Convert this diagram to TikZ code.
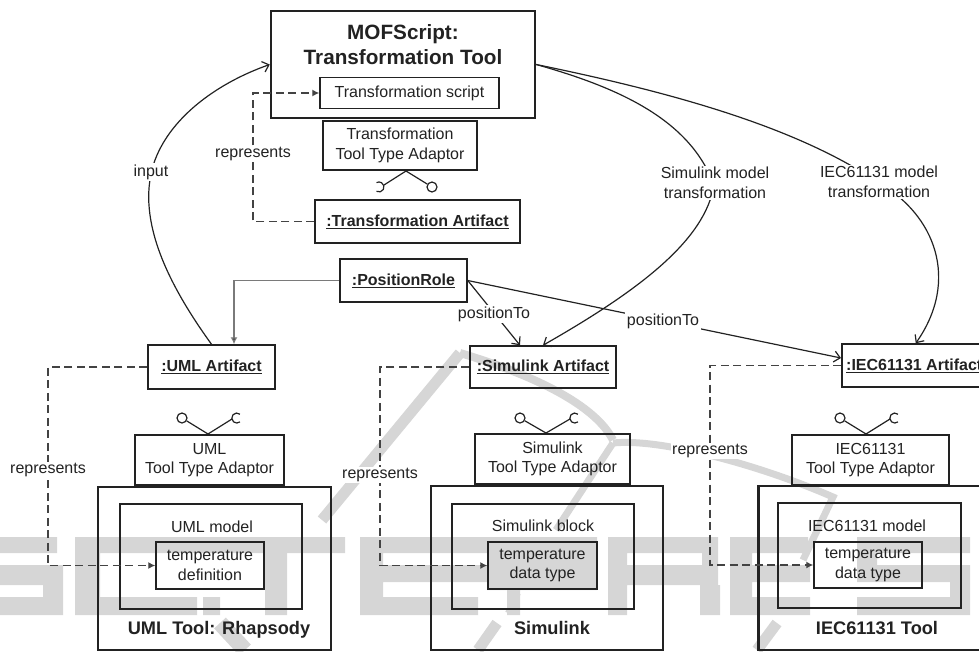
\documentclass[tikz,border=0pt]{standalone}
\usepackage{fontspec}
\setmainfont{Liberation Sans}
\usetikzlibrary{arrows.meta}
\definecolor{ink}{HTML}{222222}
\definecolor{wm}{HTML}{D6D6D6}
\tikzset{
  boxthin/.style={draw=ink,line width=1.5pt,inner sep=0pt,align=center},
  boxthick/.style={draw=ink,line width=2.5pt,inner sep=0pt,align=center},
  txt/.style={font=\fontsize{16}{19.5}\selectfont,text=ink,align=center,inner sep=0pt},
  btxt/.style={font=\fontsize{16}{19.5}\selectfont\bfseries,text=ink,align=center,inner sep=0pt},
  lbl/.style={txt,fill=white,inner sep=1.5pt},
  conn/.style={draw=ink,line width=1.2pt},
  open/.style={-{Straight Barb[length=6pt,width=11pt]}},
  dashline/.style={draw=ink!85,line width=1.2pt,dash pattern=on 8pt off 4.5pt,-{Latex[length=7pt,width=7pt]}},
  ball/.style={circle,draw=ink,line width=1.2pt,minimum size=10pt,inner sep=0pt},
  wmk/.style={fill=wm,draw=none},
  wmline/.style={draw=wm,line cap=butt}
}
\begin{document}
\begin{tikzpicture}[x=1pt,y=-1pt]
\useasboundingbox (0,0) rectangle (979,651);
\clip (0,0) rectangle (979,651);
% watermark: S C I T
\fill[wmk] (0,537) rectangle (57,553) (0,565) rectangle (63,585) (43,565) rectangle (63,615) (0,597) rectangle (63,615);
\fill[wmk] (75,537) rectangle (345,553) (75,537) rectangle (100,615) (75,597) rectangle (197,615);
\fill[wmk] (203,597) rectangle (220,615) (265,553) rectangle (287,615);
% E P
\fill[wmk] (360,537) rectangle (487,553) (360,537) rectangle (383,615) (360,565) rectangle (487,582) (360,597) rectangle (478,615);
\fill[wmk] (487,537) rectangle (597,590) (507,590) rectangle (520,615);
% R E S
\fill[wmk] (608,537) rectangle (713,553) (608,537) rectangle (627,615) (608,565) rectangle (717,585) (702,537) rectangle (718,585) (700,585) rectangle (720,615);
\fill[wmk] (730,537) rectangle (808,553) (730,537) rectangle (752,615) (730,565) rectangle (810,582) (730,597) rectangle (810,615);
\fill[wmk] (857,537) rectangle (970,553) (857,537) rectangle (877,582) (857,565) rectangle (970,582) (950,565) rectangle (970,615) (857,597) rectangle (970,615);
% watermark: strokes
\draw[wmline,line width=11pt] (322,520) -- (460,353);
\draw[wmline,line width=8pt] (460,353) .. controls (500,365) and (590,395) .. (613,440);
\draw[wmline,line width=7pt] (613,443) .. controls (660,438) and (760,465) .. (833,497) -- (803,560);
\draw[wmline,line width=7pt] (613,443) -- (556,530);
\draw[wmline,line width=6pt] (518,593) -- (508,613);
\draw[wmline,line width=11pt] (497,623) -- (478,650);
\draw[wmline,line width=11pt] (777,623) -- (757,650);
\draw[wmline,line width=16pt] (220,623) -- (245,650);
% top
\node[boxthick,minimum width=264pt,minimum height=107pt] (mof) at (403,64.5) {};
\node[btxt,font=\fontsize{20.7}{25}\selectfont\bfseries] (moft) at (403,45) {MOFScript:\\Transformation Tool};
\node[boxthin,minimum width=179pt,minimum height=31pt,txt,draw=ink] (script) at (409.5,93) {Transformation script};
\node[boxthick,minimum width=154pt,minimum height=49pt,txt,draw=ink] (tad) at (400,145.5) {Transformation\\Tool Type Adaptor};
\node[boxthin,minimum width=205pt,minimum height=43pt,btxt,draw=ink] (trart) at (417.5,221.5) {\underline{:Transformation Artifact}};
% artifacts
\node[boxthin,minimum width=127pt,minimum height=43pt,btxt,draw=ink] (prole) at (403.5,280.5) {\underline{:PositionRole}};
\node[boxthin,minimum width=127pt,minimum height=44pt,btxt,draw=ink] (umlart) at (211.5,367) {\underline{:UML Artifact}};
\node[boxthin,minimum width=146pt,minimum height=42pt,btxt,draw=ink] (simart) at (543,367) {\underline{:Simulink Artifact}};
\node[boxthin,minimum width=148pt,minimum height=43pt,btxt,draw=ink,anchor=west] (iecart) at (841,365.5) {};
\node[btxt,anchor=west] (iect) at (846,365.5) {\underline{:IEC61131 Artifact}};
% adaptors
\node[boxthick,minimum width=149pt,minimum height=50pt,txt,draw=ink] (umlad) at (209.5,460) {UML\\Tool Type Adaptor};
\node[boxthick,minimum width=155pt,minimum height=50pt,txt,draw=ink] (simad) at (552.5,459) {Simulink\\Tool Type Adaptor};
\node[boxthick,minimum width=157pt,minimum height=50pt,txt,draw=ink] (iecad) at (870.5,460) {IEC61131\\Tool Type Adaptor};
% tools
\node[boxthick,minimum width=233pt,minimum height=163pt] (umltool) at (214.5,568.5) {};
\node[boxthick,minimum width=232pt,minimum height=164pt] (simtool) at (547,568) {};
\node[boxthick,minimum width=240pt,minimum height=164pt,anchor=west] (iectool) at (757,568) {};
\node[boxthin,minimum width=182pt,minimum height=105pt] (umlmod) at (211,556.5) {};
\node[boxthin,minimum width=182pt,minimum height=105pt] (simmod) at (543,556.5) {};
\node[boxthin,minimum width=183pt,minimum height=105pt] (iecmod) at (869.5,555.5) {};
\node[boxthin,minimum width=108pt,minimum height=47pt,txt,draw=ink] (umltemp) at (210,565.5) {temperature\\definition};
\node[boxthin,minimum width=109pt,minimum height=47pt,txt,draw=ink] (simtemp) at (542.5,565.5) {temperature\\data type};
\node[boxthin,minimum width=108pt,minimum height=46pt,txt,draw=ink] (iectemp) at (868,565) {temperature\\data type};
\node[txt] (umlmt) at (212,527) {UML model};
\node[txt] (simmt) at (543,526) {Simulink block};
\node[txt] (iecmt) at (867,526) {IEC61131 model};
\node[btxt,font=\fontsize{18.2}{20}\selectfont\bfseries] (umltt) at (219,630) {UML Tool: Rhapsody};
\node[btxt,font=\fontsize{18.2}{20}\selectfont\bfseries] (simtt) at (552,628) {Simulink};
\node[btxt,font=\fontsize{18.2}{20}\selectfont\bfseries] (iectt) at (877,628) {IEC61131 Tool};
% lollipops
\coordinate (a1) at (406,171);
\node[ball] (b1) at (432,187) {};
\draw[conn] (a1) -- (b1);
\draw[conn] (a1) -- (384,185);
\draw[conn] (376.5,191.3) arc[start angle=-120,end angle=120,radius=5pt];
\coordinate (a2) at (208,434);
\node[ball] (b2) at (182,418) {};
\draw[conn] (a2) -- (b2);
\draw[conn] (a2) -- (232,419);
\draw[conn] (240,414.2) arc[start angle=50,end angle=310,radius=5pt];
\coordinate (a3) at (546,433);
\node[ball] (b3) at (520,418) {};
\draw[conn] (a3) -- (b3);
\draw[conn] (a3) -- (570,419);
\draw[conn] (578,414.2) arc[start angle=50,end angle=310,radius=5pt];
\coordinate (a4) at (866,434);
\node[ball] (b4) at (840,418) {};
\draw[conn] (a4) -- (b4);
\draw[conn] (a4) -- (890,419);
\draw[conn] (898,414.2) arc[start angle=50,end angle=310,radius=5pt];
% elbows
\coordinate (e1) at (48,367);
\coordinate (e2) at (380,367);
\coordinate (e3) at (710,365.5);
\coordinate (e4) at (253,221.5);
% dashed
\draw[dashline] (umlart.west) -- (e1) |- (umltemp.west);
\draw[dashline] (simart.west) -- (e2) |- (simtemp.west);
\draw[dashline] (iecart.west) -- (e3) |- (iectemp.west);
\draw[dashline] (trart.west) -- (e4) |- (script.west);
% solid connectors
\draw[conn,open] (umlart.north) .. controls (165,280) and (135,215) .. (155,160) .. controls (172,115) and (220,82) .. (mof.west);
\draw[draw=ink!60,line width=1.3pt,-{Latex[length=7pt,width=7pt,fill=ink]}] (prole.west) -| ([xshift=22.5pt]umlart.north);
\draw[conn,open] (prole.east) -- ([xshift=-23pt]simart.north);
\draw[conn,open] (prole.east) -- ([yshift=7.5pt]iecart.west);
\draw[conn,open] (mof.east) .. controls (620,88) and (690,120) .. (714,185) .. controls (705,240) and (640,290) .. (simart.north);
\draw[conn,open] (mof.east) .. controls (650,88) and (790,122) .. (879,183) .. controls (935,215) and (960,280) .. (iecart.north);
% labels
\node[lbl] (l1) at (151,172) {input};
\node[lbl] (l2) at (253,154) {represents};
\node[lbl] (l3) at (48,470) {represents};
\node[lbl] (l4) at (380,475) {represents};
\node[lbl] (l5) at (710,451) {represents};
\node[lbl] (l6) at (494,314) {positionTo};
\node[lbl] (l7) at (663,321) {positionTo};
\node[lbl] (l8) at (715,183) {Simulink model\\transformation};
\node[lbl] (l9) at (879,182) {IEC61131 model\\transformation};
\end{tikzpicture}
\end{document}
